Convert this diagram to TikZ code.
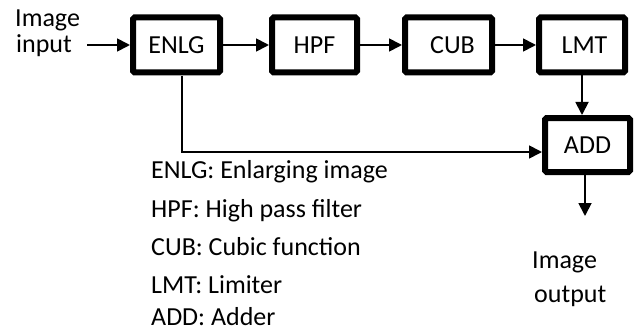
\documentclass[tikz,border=0pt]{standalone}
\usepackage{fontspec}
\setmainfont{Carlito}
\usetikzlibrary{arrows.meta}
\begin{document}
\begin{tikzpicture}[x=1pt,y=-1pt,
  blk/.style={draw, line width=6pt, rounded corners=1.5pt, minimum height=55pt, inner sep=0pt, font=\fontsize{26}{30}\selectfont},
  conn/.style={line width=1.8pt, -{Triangle[length=13pt,width=13pt]}},
  lbl/.style={font=\fontsize{26}{30}\selectfont, inner sep=0pt, anchor=base west},
  io/.style={font=\fontsize{26}{30}\selectfont, inner sep=0pt, anchor=base west}]
\useasboundingbox (0,0) rectangle (635,329);
\node[blk, minimum width=87pt] (ENLG) at (176.5,45) {ENLG\hspace{10pt}};
\node[blk, minimum width=85pt] (HPF) at (314.5,45) {HPF\hspace{17pt}};
\node[blk, minimum width=87pt] (CUB) at (448.5,45) {\hspace{8pt}CUB};
\node[blk, minimum width=86pt] (LMT) at (582,45) {\hspace{5pt}LMT};
\node[blk, minimum width=85pt, minimum height=54pt] (ADD) at (587.5,145) {ADD\hspace{14pt}};
\node[io] (in1) at (15,27) {Image};
\node[io] (in2) at (16,53) {input};
\node[io] (out1) at (532,268) {Image};
\node[io] (out2) at (534,302) {output};
\coordinate (inS) at (87,45);
\coordinate (outE) at (585,216);
\coordinate (split) at (182,76);
\draw[conn] (inS) -- (ENLG);
\draw[conn] (ENLG) -- (HPF);
\draw[conn] (HPF) -- (CUB);
\draw[conn] (CUB) -- (LMT);
\draw[conn] (LMT.south) -- (LMT.south |- ADD.north);
\draw[conn] (split) |- ([yshift=-7pt]ADD.west);
\draw[conn] (ADD.south -| outE) -- (outE);
\node[lbl] (l1) at (151,178) {ENLG: Enlarging image};
\node[lbl] (l2) at (151,217) {HPF: High pass filter};
\node[lbl] (l3) at (151,255) {CUB: Cubic function};
\node[lbl] (l4) at (151,293) {LMT: Limiter};
\node[lbl] (l5) at (151,325) {ADD: Adder};
\end{tikzpicture}
\end{document}
